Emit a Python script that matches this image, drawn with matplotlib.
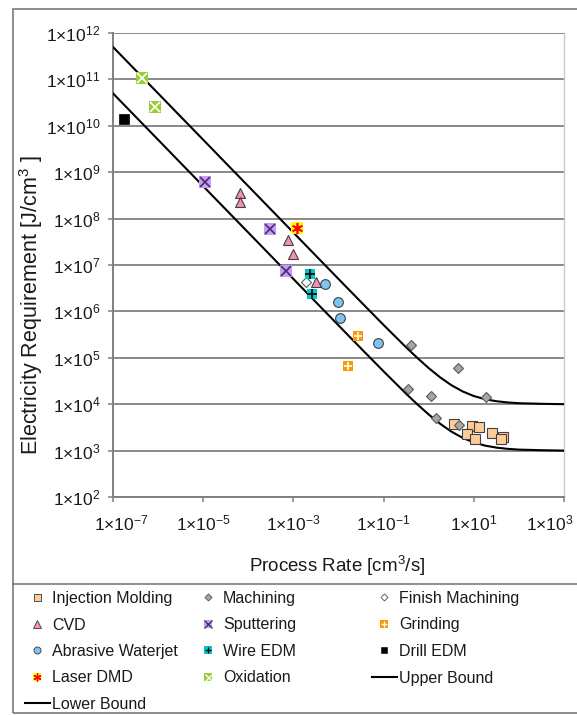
import numpy as np
import matplotlib

matplotlib.use('Agg')
import matplotlib.pyplot as plt
from matplotlib.lines import Line2D
from matplotlib.patches import Rectangle
from matplotlib.ticker import FixedLocator, FuncFormatter, NullLocator
from matplotlib.transforms import ScaledTranslation

plt.rcParams['font.family'] = ['Liberation Sans', 'DejaVu Sans']
plt.rcParams['mathtext.fontset'] = 'custom'
plt.rcParams['mathtext.rm'] = 'Liberation Sans'
plt.rcParams['mathtext.it'] = 'Liberation Sans:italic'
plt.rcParams['mathtext.bf'] = 'Liberation Sans:bold'

# process data: rate [cm3/s] vs electricity requirement [J/cm3]
im_rate = [3.6, 8.9, 13, 7.2, 10.5, 25.7, 44.6, 40]
im_energy = [3.7e3, 3.4e3, 3.2e3, 2.3e3, 1.8e3, 2.4e3, 2.0e3, 1.8e3]

mach_rate = [0.40, 4.5, 18.6, 0.35, 1.12, 1.45, 4.7]
mach_energy = [1.9e5, 5.9e4, 1.45e4, 2.1e4, 1.5e4, 5.0e3, 3.5e3]

finish_rate = [1.9e-3]
finish_energy = [4.4e6]

cvd_rate = [6.6e-5, 6.6e-5, 7.6e-4, 1.0e-3, 3.1e-3]
cvd_energy = [3.6e8, 2.3e8, 3.5e7, 1.7e7, 4.2e6]

sputter_rate = [1.07e-5, 3.0e-4, 6.8e-4]
sputter_energy = [6.3e8, 5.9e7, 7.6e6]

grind_rate = [2.75e-2, 1.6e-2]
grind_energy = [2.9e5, 6.6e4]

waterjet_rate = [4.9e-3, 9.8e-3, 1.07e-2, 7.6e-2]
waterjet_energy = [3.9e6, 1.6e6, 7.1e5, 2.1e5]

wire_rate = [2.35e-3, 2.6e-3]
wire_energy = [6.5e6, 2.4e6]

drill_rate = [1.75e-7]
drill_energy = [1.4e10]

laser_rate = [1.23e-3]
laser_energy = [6.2e7]

oxid_rate = [4.5e-7, 8.5e-7]
oxid_energy = [1.05e11, 2.5e10]

# bound curves, read at half-decade steps (finer around the knee)
bound_rate = [1e-7, 3.16e-7, 1e-6, 3.16e-6, 1e-5, 3.16e-5, 1e-4, 3.16e-4,
              1e-3, 3.16e-3, 1e-2, 3.16e-2, 1e-1, 0.316, 0.562, 1, 1.78,
              3.16, 5.62, 10, 17.8, 31.6, 56.2, 100, 316, 1000]
upper_energy = [5e11, 1.58e11, 5e10, 1.58e10, 5e9, 1.58e9, 5e8, 1.58e8,
                5e7, 1.58e7, 5.0e6, 1.59e6, 5.1e5, 1.68e5, 9.9e4, 6.0e4, 3.81e4,
                2.58e4, 1.89e4, 1.5e4, 1.28e4, 1.16e4, 1.09e4, 1.05e4, 1.02e4, 1.0e4]
lower_energy = [5e10, 1.58e10, 5e9, 1.58e9, 5e8, 1.58e8, 5e7, 1.58e7,
                5e6, 1.58e6, 5.0e5, 1.59e5, 5.1e4, 1.68e4, 9.9e3, 6.0e3, 3.81e3,
                2.58e3, 1.89e3, 1.5e3, 1.28e3, 1.16e3, 1.09e3, 1.05e3, 1.02e3, 1.0e3]

x_ticks = [1e-7, 1e-5, 1e-3, 1e-1, 1e1, 1e3]
y_ticks = [1e2, 1e3, 1e4, 1e5, 1e6, 1e7, 1e8, 1e9, 1e10, 1e11, 1e12]

W, H = 577, 715
EDGE = '#404040'

# marker styles: list of layers (marker, size, face, edge, edge width)
styles = {
    'Injection Molding': [('s', 7, '#FFCC99', EDGE, 0.8)],
    'Machining': [('D', 5, '#A6A6A6', '#595959', 0.8)],
    'Finish Machining': [('D', 5, 'white', '#595959', 0.8)],
    'CVD': [('^', 7.5, '#F48FB8', EDGE, 0.8)],
    'Sputtering': [('s', 8.5, '#CC99FF', 'none', 0), ('x', 7.5, '#403060', '#403060', 1.2)],
    'Grinding': [('s', 7.5, '#FF9900', 'none', 0), ('+', 6, 'white', 'white', 1.2)],
    'Abrasive Waterjet': [('o', 7, '#7EC3F2', EDGE, 0.8)],
    'Wire EDM': [('s', 7.5, '#00C8C8', 'none', 0), ('+', 6.5, 'black', 'black', 1.2)],
    'Drill EDM': [('s', 6.5, 'black', 'black', 0.5)],
    'Laser DMD': [('s', 8.5, '#FFFF00', 'none', 0), ((6, 2, 0), 8, '#FF0000', '#FF0000', 1.2)],
    'Oxidation': [('s', 8.5, '#99CC33', 'none', 0), ('x', 7, 'white', 'white', 1.2)],
}

series = [
    ('Injection Molding', im_rate, im_energy),
    ('Machining', mach_rate, mach_energy),
    ('Finish Machining', finish_rate, finish_energy),
    ('CVD', cvd_rate, cvd_energy),
    ('Sputtering', sputter_rate, sputter_energy),
    ('Grinding', grind_rate, grind_energy),
    ('Abrasive Waterjet', waterjet_rate, waterjet_energy),
    ('Wire EDM', wire_rate, wire_energy),
    ('Drill EDM', drill_rate, drill_energy),
    ('Laser DMD', laser_rate, laser_energy),
    ('Oxidation', oxid_rate, oxid_energy),
]

fig = plt.figure(figsize=(W / 100, H / 100), dpi=100)
ax = fig.add_axes([113 / W, 1 - 497 / H, 451 / W, 464 / H])
ax.set_xscale('log')
ax.set_yscale('log')
ax.set_xlim(1e-7, 1e3)
ax.set_ylim(1e2, 1e12)

ax.plot(bound_rate, upper_energy, color='black', lw=1.5, zorder=3)
ax.plot(bound_rate, lower_energy, color='black', lw=1.5, zorder=3)

for name, xs, ys in series:
    for mk, ms, fc, ec, mew in styles[name]:
        ax.plot(xs, ys, ls='none', marker=mk, ms=ms, mfc=fc, mec=ec, mew=mew, zorder=4)

ax.xaxis.set_major_locator(FixedLocator(x_ticks))
ax.yaxis.set_major_locator(FixedLocator(y_ticks))
ax.xaxis.set_minor_locator(NullLocator())
ax.yaxis.set_minor_locator(NullLocator())
fmt = FuncFormatter(lambda v, _: r'$\mathregular{1×10^{%d}}$' % round(np.log10(v)))
ax.xaxis.set_major_formatter(fmt)
ax.yaxis.set_major_formatter(fmt)
ax.tick_params(axis='both', which='major', direction='out', length=3.6,
               width=1.1, color='#808080', labelsize=12.5, labelcolor='#1a1a1a')
ax.tick_params(axis='x', pad=8)
ax.tick_params(axis='y', pad=5.5)

ax.grid(axis='y', color='#808080', lw=1.3)
ax.set_axisbelow(True)
for side in ('left', 'bottom'):
    ax.spines[side].set_color('#808080')
    ax.spines[side].set_linewidth(1.4)
ax.spines['right'].set_color('#C8C8C8')
ax.spines['right'].set_linewidth(1.0)
ax.spines['top'].set_visible(False)

# keep the outer x labels inside the chart area
xlabels = ax.get_xticklabels()
xlabels[0].set_transform(xlabels[0].get_transform()
                         + ScaledTranslation(8 / 100, 0, fig.dpi_scale_trans))
xlabels[-1].set_transform(xlabels[-1].get_transform()
                          + ScaledTranslation(-14 / 100, 0, fig.dpi_scale_trans))

fig.text(31 / W, 1 - 305 / H, r'Electricity Requirement [J/cm$\mathregular{^3}$ ]',
         rotation=90, ha='center', va='center', fontsize=15.5, color='#1a1a1a')
fig.text(337 / W, 1 - 566 / H, r'Process Rate [cm$\mathregular{^3}$/s]',
         ha='center', va='center', fontsize=13.5, color='#1a1a1a')

# chart border and legend separator
fig.patches.append(Rectangle((12.5 / W, 1 - 713 / H), 600 / W, 704.5 / H,
                             transform=fig.transFigure, fill=False,
                             ec='#707070', lw=1.1))
fig.lines.append(Line2D([12.5 / W, 1], [1 - 584 / H, 1 - 584 / H],
                        transform=fig.transFigure, color='#707070', lw=1.1))


def legend_handle(name):
    if name in styles:
        layers = [Line2D([], [], ls='none', marker=mk, ms=ms * 0.72, mfc=fc, mec=ec,
                         mew=mew * 0.8) for mk, ms, fc, ec, mew in styles[name]]
        return tuple(layers) if len(layers) > 1 else layers[0]
    return Line2D([], [], color='black', lw=1.5)


columns = [
    (25, ['Injection Molding', 'CVD', 'Abrasive Waterjet', 'Laser DMD', 'Lower Bound']),
    (196, ['Machining', 'Sputtering', 'Wire EDM', 'Oxidation']),
    (372, ['Finish Machining', 'Grinding', 'Drill EDM', 'Upper Bound']),
]
for x0, names in columns:
    fig.legend([legend_handle(n) for n in names], names, loc='upper left',
               bbox_to_anchor=(x0 / W, 1 - 591 / H), bbox_transform=fig.transFigure,
               frameon=False, fontsize=11.5, borderpad=0, borderaxespad=0,
               handlelength=1.55, handletextpad=0.15, labelspacing=0.72,
               labelcolor='#1a1a1a')

fig.savefig('out.png', dpi=100)
